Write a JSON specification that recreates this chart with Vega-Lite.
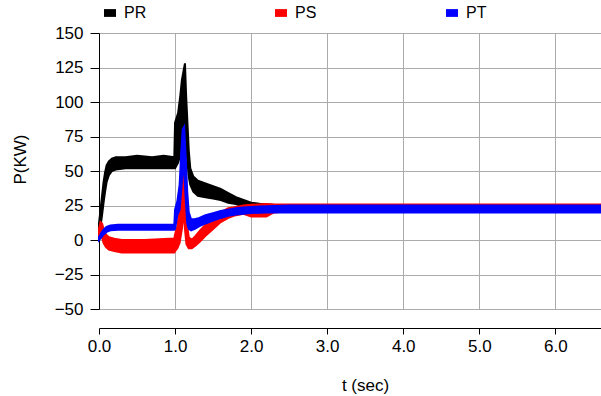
{
  "$schema": "https://vega.github.io/schema/vega-lite/v6.json",
  "autosize": {"type": "none"},
  "width": 502,
  "height": 276,
  "padding": {"left": 99, "top": 33, "right": 0, "bottom": 87},
  "background": "white",
  "config": {
    "view": {"stroke": null},
    "font": "Liberation Sans"
  },
  "data": {
    "values": [
      {"t": 0, "s": "PR", "lo": 4, "hi": 12},
      {"t": 0.02, "s": "PR", "lo": 10, "hi": 22},
      {"t": 0.04, "s": "PR", "lo": 18, "hi": 32},
      {"t": 0.06, "s": "PR", "lo": 27, "hi": 42},
      {"t": 0.08, "s": "PR", "lo": 35, "hi": 49},
      {"t": 0.1, "s": "PR", "lo": 42, "hi": 54},
      {"t": 0.13, "s": "PR", "lo": 47, "hi": 57},
      {"t": 0.17, "s": "PR", "lo": 50, "hi": 59},
      {"t": 0.22, "s": "PR", "lo": 51, "hi": 60},
      {"t": 0.35, "s": "PR", "lo": 52, "hi": 60},
      {"t": 0.5, "s": "PR", "lo": 52, "hi": 61},
      {"t": 0.7, "s": "PR", "lo": 52, "hi": 60},
      {"t": 0.85, "s": "PR", "lo": 52, "hi": 61},
      {"t": 0.99, "s": "PR", "lo": 52, "hi": 60},
      {"t": 1.0, "s": "PR", "lo": 52, "hi": 85},
      {"t": 1.04, "s": "PR", "lo": 56, "hi": 92},
      {"t": 1.07, "s": "PR", "lo": 62, "hi": 105},
      {"t": 1.09, "s": "PR", "lo": 70, "hi": 116},
      {"t": 1.11, "s": "PR", "lo": 80, "hi": 122},
      {"t": 1.13, "s": "PR", "lo": 88, "hi": 128},
      {"t": 1.145, "s": "PR", "lo": 72, "hi": 105},
      {"t": 1.16, "s": "PR", "lo": 58, "hi": 88},
      {"t": 1.18, "s": "PR", "lo": 46, "hi": 65},
      {"t": 1.2, "s": "PR", "lo": 40, "hi": 52},
      {"t": 1.24, "s": "PR", "lo": 35, "hi": 46},
      {"t": 1.3, "s": "PR", "lo": 32, "hi": 43},
      {"t": 1.4, "s": "PR", "lo": 31, "hi": 41},
      {"t": 1.5, "s": "PR", "lo": 30, "hi": 39},
      {"t": 1.6, "s": "PR", "lo": 29, "hi": 37},
      {"t": 1.7, "s": "PR", "lo": 27, "hi": 34},
      {"t": 1.8, "s": "PR", "lo": 26, "hi": 31},
      {"t": 1.9, "s": "PR", "lo": 24, "hi": 29},
      {"t": 2.0, "s": "PR", "lo": 23, "hi": 27},
      {"t": 2.15, "s": "PR", "lo": 22, "hi": 26},
      {"t": 2.4, "s": "PR", "lo": 22, "hi": 25},
      {"t": 6.6, "s": "PR", "lo": 22, "hi": 25},

      {"t": 0, "s": "PS", "lo": 0, "hi": 8},
      {"t": 0.02, "s": "PS", "lo": 4, "hi": 13},
      {"t": 0.04, "s": "PS", "lo": 2, "hi": 12},
      {"t": 0.06, "s": "PS", "lo": -2, "hi": 8},
      {"t": 0.09, "s": "PS", "lo": -5, "hi": 4},
      {"t": 0.13, "s": "PS", "lo": -7, "hi": 2},
      {"t": 0.2, "s": "PS", "lo": -8, "hi": 1},
      {"t": 0.3, "s": "PS", "lo": -9, "hi": 0},
      {"t": 0.6, "s": "PS", "lo": -9, "hi": 0},
      {"t": 0.99, "s": "PS", "lo": -9, "hi": 1},
      {"t": 1.0, "s": "PS", "lo": -8, "hi": 4},
      {"t": 1.03, "s": "PS", "lo": -6, "hi": 10},
      {"t": 1.06, "s": "PS", "lo": -2, "hi": 22},
      {"t": 1.09, "s": "PS", "lo": 8, "hi": 40},
      {"t": 1.11, "s": "PS", "lo": 22, "hi": 49},
      {"t": 1.13, "s": "PS", "lo": 8, "hi": 36},
      {"t": 1.15, "s": "PS", "lo": -3, "hi": 14},
      {"t": 1.18, "s": "PS", "lo": -6, "hi": 2},
      {"t": 1.22, "s": "PS", "lo": -6, "hi": 0},
      {"t": 1.27, "s": "PS", "lo": -4, "hi": 3},
      {"t": 1.33, "s": "PS", "lo": -1, "hi": 7},
      {"t": 1.4, "s": "PS", "lo": 3, "hi": 11},
      {"t": 1.5, "s": "PS", "lo": 8, "hi": 16},
      {"t": 1.6, "s": "PS", "lo": 13, "hi": 20},
      {"t": 1.7, "s": "PS", "lo": 16, "hi": 23},
      {"t": 1.8, "s": "PS", "lo": 18, "hi": 24},
      {"t": 1.9, "s": "PS", "lo": 19, "hi": 25},
      {"t": 2.0, "s": "PS", "lo": 17, "hi": 25.5},
      {"t": 2.2, "s": "PS", "lo": 17, "hi": 26},
      {"t": 2.3, "s": "PS", "lo": 20, "hi": 25.8},
      {"t": 2.5, "s": "PS", "lo": 21, "hi": 25.7},
      {"t": 6.6, "s": "PS", "lo": 21, "hi": 25.7},

      {"t": 0, "s": "PT", "lo": 0, "hi": 2},
      {"t": 0.03, "s": "PT", "lo": 2, "hi": 5},
      {"t": 0.06, "s": "PT", "lo": 4, "hi": 7.5},
      {"t": 0.1, "s": "PT", "lo": 6, "hi": 9.5},
      {"t": 0.15, "s": "PT", "lo": 7, "hi": 10.5},
      {"t": 0.25, "s": "PT", "lo": 7.5, "hi": 11},
      {"t": 0.99, "s": "PT", "lo": 7.5, "hi": 11},
      {"t": 1.0, "s": "PT", "lo": 8, "hi": 22},
      {"t": 1.03, "s": "PT", "lo": 18, "hi": 28},
      {"t": 1.06, "s": "PT", "lo": 22, "hi": 40},
      {"t": 1.08, "s": "PT", "lo": 35, "hi": 62},
      {"t": 1.1, "s": "PT", "lo": 50, "hi": 80},
      {"t": 1.12, "s": "PT", "lo": 50, "hi": 82},
      {"t": 1.14, "s": "PT", "lo": 30, "hi": 60},
      {"t": 1.16, "s": "PT", "lo": 12, "hi": 35},
      {"t": 1.18, "s": "PT", "lo": 8, "hi": 20},
      {"t": 1.21, "s": "PT", "lo": 7, "hi": 15},
      {"t": 1.26, "s": "PT", "lo": 8, "hi": 15},
      {"t": 1.32, "s": "PT", "lo": 10, "hi": 16},
      {"t": 1.4, "s": "PT", "lo": 12, "hi": 18},
      {"t": 1.5, "s": "PT", "lo": 14, "hi": 19.5},
      {"t": 1.6, "s": "PT", "lo": 16, "hi": 21},
      {"t": 1.7, "s": "PT", "lo": 17.5, "hi": 22},
      {"t": 1.8, "s": "PT", "lo": 18.5, "hi": 23},
      {"t": 1.9, "s": "PT", "lo": 19, "hi": 23.5},
      {"t": 2.0, "s": "PT", "lo": 19.5, "hi": 24},
      {"t": 2.2, "s": "PT", "lo": 20, "hi": 24.5},
      {"t": 2.5, "s": "PT", "lo": 20, "hi": 25},
      {"t": 6.6, "s": "PT", "lo": 20, "hi": 25}
    ]
  },
  "mark": {"type": "area", "strokeWidth": 2, "interpolate": "linear"},
  "encoding": {
    "x": {
      "field": "t", "type": "quantitative",
      "scale": {"domain": [0, 6.6], "nice": false, "zero": false},
      "axis": {
        "values": [0, 1, 2, 3, 4, 5, 6],
        "format": ".1f",
        "offset": 19,
        "labelFlush": false,
        "domainColor": "#000", "domainWidth": 1,
        "tickColor": "#000", "tickSize": 6,
        "labelFontSize": 17, "labelColor": "#000", "labelPadding": 4,
        "grid": true, "gridColor": "#ababab", "gridWidth": 1,
        "title": "t (sec)", "titleFontSize": 17, "titleFontWeight": "normal", "titleColor": "#000",
        "titleX": 266, "titleY": 57, "titleAlign": "center", "titleBaseline": "middle"
      }
    },
    "y": {
      "field": "lo", "type": "quantitative",
      "scale": {"domain": [-50, 150], "nice": false, "zero": false},
      "axis": {
        "values": [-50, -25, 0, 25, 50, 75, 100, 125, 150],
        "labelFlush": false,
        "domainColor": "#000", "domainWidth": 1,
        "tickColor": "#000", "tickSize": 9,
        "labelFontSize": 17, "labelColor": "#000", "labelPadding": 7,
        "grid": true, "gridColor": "#ababab", "gridWidth": 1,
        "title": "P(KW)", "titleFontSize": 17, "titleFontWeight": "normal", "titleColor": "#000",
        "titleX": -79, "titleY": 126, "titleAlign": "center", "titleBaseline": "middle"
      }
    },
    "y2": {"field": "hi"},
    "color": {
      "field": "s", "type": "nominal",
      "scale": {"domain": ["PR", "PS", "PT"], "range": ["#000000", "#ff0000", "#0000ff"]},
      "legend": {
        "title": null,
        "orient": "none", "legendX": 3, "legendY": -28,
        "direction": "horizontal",
        "symbolType": "M-1,-0.65H1V0.65H-1Z",
        "symbolSize": 144, "symbolStrokeWidth": 0,
        "labelFontSize": 16, "labelColor": "#000", "labelOffset": 6,
        "gridAlign": "all", "columnPadding": 126, "padding": 0
      }
    },
    "stroke": {
      "field": "s", "type": "nominal",
      "scale": {"domain": ["PR", "PS", "PT"], "range": ["#000000", "#ff0000", "#0000ff"]},
      "legend": null
    }
  }
}
